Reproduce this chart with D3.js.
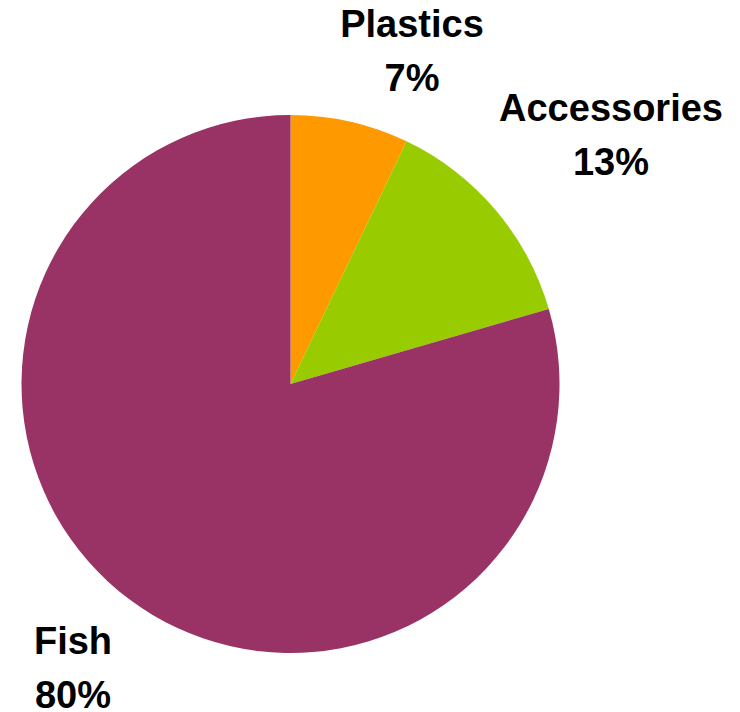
<!DOCTYPE html>
<html>
<head>
<meta charset="utf-8">
<script src="https://cdn.jsdelivr.net/npm/d3@7"></script>
<style>
  html, body { margin: 0; padding: 0; background: #fff; }
  svg { display: block; }
  text { font-family: "Liberation Sans", Arial, sans-serif; font-weight: bold; fill: #000; }
</style>
</head>
<body>
<svg id="chart" width="740" height="712"></svg>
<script>
// Product mix shares (percent of total; labels show them rounded)
const categories = ["Plastics", "Accessories", "Fish"];
const shares = [7.1, 13.4, 79.5];
const colors = ["#FF9900", "#99CC00", "#993366"];

// Label placement: centre of each two-line label, relative to the pie centre
const labelPos = [[121.5, -320], [320.5, -236], [-217.5, 297]];

const width = 740, height = 712;
const cx = 290.5, cy = 384, radius = 269;

const svg = d3.select("#chart");
const g = svg.append("g").attr("transform", `translate(${cx},${cy})`);

const pie = d3.pie().sort(null).value(d => d.value);
const arc = d3.arc().innerRadius(0).outerRadius(radius);

const data = categories.map((c, i) => ({ name: c, value: shares[i], color: colors[i] }));
const arcs = pie(data);

g.selectAll("path.slice")
  .data(arcs)
  .join("path")
  .attr("class", "slice")
  .attr("d", arc)
  .attr("fill", d => d.data.color);

const total = d3.sum(shares);
const fmt = v => Math.round(v * 100 / total) + "%";

const labels = g.selectAll("g.label")
  .data(arcs)
  .join("g")
  .attr("class", "label")
  .attr("transform", (d, i) => `translate(${labelPos[i][0]},${labelPos[i][1]})`);

labels.append("text")
  .attr("text-anchor", "middle")
  .attr("y", -27)
  .style("font-size", "38px")
  .text(d => d.data.name);

labels.append("text")
  .attr("text-anchor", "middle")
  .attr("y", 27)
  .style("font-size", "38px")
  .text(d => fmt(d.data.value));
</script>
</body>
</html>
